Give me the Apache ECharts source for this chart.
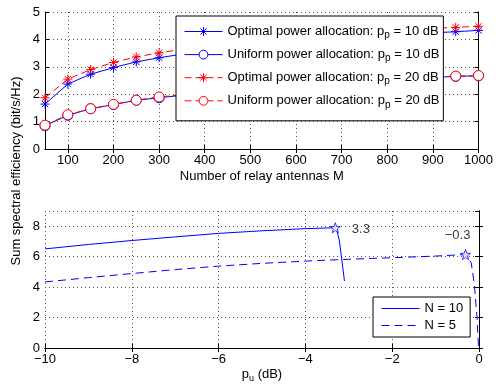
<!DOCTYPE html>
<html>
<head>
<meta charset="utf-8">
<script src="https://cdn.jsdelivr.net/npm/echarts@6/dist/echarts.min.js"></script>
<style>
  html, body { margin: 0; padding: 0; background: #fff; }
  #chart { width: 496px; height: 390px; }
</style>
</head>
<body>
<div id="chart"></div>
<script>
// top panel: sum SE vs number of relay antennas
const antennaM = [50, 100, 150, 200, 250, 300, 350, 400, 450, 500, 550, 600, 650, 700, 750, 800, 850, 900, 950, 1000];
const optP10 = [1.64, 2.37, 2.73, 2.97, 3.18, 3.33, 3.46, 3.57, 3.67, 3.76, 3.84, 3.92, 3.99, 4.05, 4.10, 4.15, 4.20, 4.24, 4.28, 4.33];
const uniP10 = [0.85, 1.23, 1.47, 1.62, 1.78, 1.87, 1.96, 2.04, 2.12, 2.19, 2.25, 2.31, 2.37, 2.42, 2.47, 2.52, 2.57, 2.61, 2.65, 2.67];
const optP20 = [1.87, 2.55, 2.90, 3.16, 3.36, 3.51, 3.64, 3.75, 3.85, 3.94, 4.02, 4.09, 4.15, 4.21, 4.26, 4.31, 4.36, 4.40, 4.44, 4.48];
const uniP20 = [0.87, 1.25, 1.47, 1.63, 1.78, 1.90, 1.98, 2.06, 2.13, 2.20, 2.26, 2.32, 2.38, 2.43, 2.48, 2.53, 2.58, 2.62, 2.66, 2.68];
const topTicksX = [100, 200, 300, 400, 500, 600, 700, 800, 900, 1000];
const topNames = [
  'Optimal power allocation: p_p = 10 dB',
  'Uniform power allocation: p_p = 10 dB',
  'Optimal power allocation: p_p = 20 dB',
  'Uniform power allocation: p_p = 20 dB'
];

// bottom panel: sum SE vs p_u
const puN10 = [-10, -9, -8, -7, -6, -5, -4, -3.31, -3.27, -3.22, -3.17, -3.1];
const seN10 = [6.51, 6.80, 7.06, 7.30, 7.53, 7.70, 7.84, 7.90, 7.65, 7.10, 6.00, 4.40];
const puN5 = [-10, -9, -8, -7, -6, -5, -4, -3, -2, -1, -0.31, -0.18, -0.11, -0.05, -0.01];
const seN5 = [4.34, 4.62, 4.89, 5.15, 5.38, 5.56, 5.71, 5.83, 5.93, 6.04, 6.14, 5.60, 4.25, 2.20, 0];
const peakPu = [-3.31, -0.31];
const peakSe = [7.90, 6.14];
const peakLabels = ['3.3', '\u22120.3'];
const bottomNames = ['N = 10', 'N = 5'];

const FONT = 'Liberation Sans, Arial, sans-serif';
const BLUE = '#0000ff';
const RED = '#ff0000';
const asterisk = 'path://M0,-5L0,5M-5,0L5,0M-3.5,-3.5L3.5,3.5M-3.5,3.5L3.5,-3.5';
const ring = 'path://M0,-5A5,5 0 1,1 0,5A5,5 0 1,1 0,-5Z';
const star = 'path://M0,-10L2.35,-3.24L9.51,-3.09L3.8,1.24L5.88,8.09L0,4L-5.88,8.09L-3.8,1.24L-9.51,-3.09L-2.35,-3.24Z';

const minus = v => String(v).replace('-', '\u2212');
const gridLine = { show: true, lineStyle: { color: '#555', type: [1, 3], width: 1 } };
const tick = { show: true, inside: true, length: 4, lineStyle: { color: '#000' } };
const line = { show: true, lineStyle: { color: '#000', width: 1 } };
const label = { color: '#000', fontSize: 13, fontFamily: FONT, margin: 5 };

function pairs(xs, ys) { return xs.map((x, i) => [x, ys[i]]); }

const chart = echarts.init(document.getElementById('chart'), null, { renderer: 'canvas' });

chart.setOption({
  animation: false,
  backgroundColor: '#fff',
  grid: [
    { left: 45, top: 12, width: 434, height: 137 },
    { left: 45, top: 211, width: 434, height: 137 }
  ],
  xAxis: [
    {
      gridIndex: 0, type: 'value', min: 50, max: 1000,
      name: 'Number of relay antennas M', nameLocation: 'middle', nameGap: 21,
      nameTextStyle: { color: '#000', fontSize: 13, fontFamily: FONT },
      axisLine: line, axisTick: Object.assign({ customValues: topTicksX }, tick),
      axisLabel: Object.assign({
        customValues: topTicksX,
        formatter: v => (topTicksX.indexOf(v) >= 0 ? String(v) : '')
      }, label),
      splitLine: gridLine
    },
    {
      gridIndex: 0, type: 'value', min: 50, max: 1000, position: 'top',
      axisLine: line, axisTick: Object.assign({ customValues: topTicksX }, tick),
      axisLabel: { show: false }, splitLine: { show: false }
    },
    {
      gridIndex: 1, type: 'value', min: -10, max: 0, interval: 2,
      name: '{n|p}{s|u}{n| (dB)}', nameLocation: 'middle', nameGap: 17,
      nameTextStyle: {
        color: '#000', fontFamily: FONT,
        rich: {
          n: { fontSize: 13, fontFamily: FONT, lineHeight: 18 },
          s: { fontSize: 9, fontFamily: FONT, verticalAlign: 'bottom' }
        }
      },
      axisLine: line, axisTick: tick,
      axisLabel: Object.assign({ formatter: minus }, label),
      splitLine: gridLine
    },
    {
      gridIndex: 1, type: 'value', min: -10, max: 0, interval: 2, position: 'top',
      axisLine: line, axisTick: tick, axisLabel: { show: false }, splitLine: { show: false }
    }
  ],
  yAxis: [
    {
      gridIndex: 0, type: 'value', min: 0, max: 5, interval: 1,
      axisLine: line, axisTick: tick, axisLabel: label, splitLine: gridLine
    },
    {
      gridIndex: 0, type: 'value', min: 0, max: 5, interval: 1, position: 'right',
      axisLine: line, axisTick: tick, axisLabel: { show: false }, splitLine: { show: false }
    },
    {
      gridIndex: 1, type: 'value', min: 0, max: 9, interval: 2,
      axisLine: line, axisTick: tick,
      axisLabel: Object.assign({ showMaxLabel: false }, label),
      splitLine: gridLine
    },
    {
      gridIndex: 1, type: 'value', min: 0, max: 9, interval: 2, position: 'right',
      axisLine: line, axisTick: tick, axisLabel: { show: false }, splitLine: { show: false }
    }
  ],
  legend: [
    {
      data: topNames, orient: 'vertical', left: 176, top: 16,
      itemWidth: 38, itemHeight: 11, itemGap: 7.6, padding: [9, 4, 11, 8],
      backgroundColor: '#fff', borderColor: '#000', borderWidth: 1, borderRadius: 0,
      lineStyle: { width: 1 },
      itemStyle: { borderWidth: 1 },
      formatter: n => {
        const parts = n.split('p_p');
        return '{n|' + parts[0] + 'p}{s|p}{n|' + parts[1] + '}';
      },
      textStyle: {
        color: '#000', fontFamily: FONT,
        rich: {
          n: { fontSize: 13, fontFamily: FONT, lineHeight: 18, padding: [0, 0, 0, 0] },
          s: { fontSize: 10, fontFamily: FONT, verticalAlign: 'bottom', lineHeight: 10 }
        }
      }
    },
    {
      data: bottomNames, orient: 'vertical', left: 373, top: 297,
      itemWidth: 38, itemHeight: 14, itemGap: 4, padding: [5, 7, 5, 8],
      backgroundColor: '#fff', borderColor: '#000', borderWidth: 1, borderRadius: 0,
      lineStyle: { width: 1 },
      itemStyle: { opacity: 0 },
      textStyle: { color: '#000', fontSize: 13, fontFamily: FONT }
    }
  ],
  graphic: [
    {
      type: 'text', x: 16, y: 171, rotation: Math.PI / 2,
      style: {
        text: 'Sum spectral efficiency (bit/s/Hz)', fill: '#000',
        font: '13px ' + FONT, align: 'center', verticalAlign: 'middle'
      }
    }
  ],
  series: [
    {
      name: topNames[0], type: 'line', xAxisIndex: 0, yAxisIndex: 0,
      data: pairs(antennaM, optP10),
      symbol: asterisk, symbolSize: 9,
      lineStyle: { color: BLUE, width: 1 },
      itemStyle: { color: BLUE, borderColor: BLUE, borderWidth: 1 }
    },
    {
      name: topNames[1], type: 'line', xAxisIndex: 0, yAxisIndex: 0,
      data: pairs(antennaM, uniP10),
      symbol: ring, symbolSize: 10,
      lineStyle: { color: BLUE, width: 1 },
      itemStyle: { color: '#fff', borderColor: BLUE, borderWidth: 1 }
    },
    {
      name: topNames[2], type: 'line', xAxisIndex: 0, yAxisIndex: 0,
      data: pairs(antennaM, optP20),
      symbol: asterisk, symbolSize: 9,
      lineStyle: { color: RED, width: 1, type: [7, 4] },
      itemStyle: { color: RED, borderColor: RED, borderWidth: 1 }
    },
    {
      name: topNames[3], type: 'line', xAxisIndex: 0, yAxisIndex: 0,
      data: pairs(antennaM, uniP20),
      symbol: ring, symbolSize: 10,
      lineStyle: { color: RED, width: 1, type: [7, 4] },
      itemStyle: { color: '#fff', borderColor: RED, borderWidth: 1 }
    },
    {
      name: bottomNames[0], type: 'line', xAxisIndex: 2, yAxisIndex: 2,
      data: pairs(puN10, seN10), symbol: 'none',
      lineStyle: { color: BLUE, width: 1 },
      itemStyle: { color: BLUE }
    },
    {
      name: bottomNames[1], type: 'line', xAxisIndex: 2, yAxisIndex: 2,
      data: pairs(puN5, seN5), symbol: 'none',
      lineStyle: { color: BLUE, width: 1, type: [8, 5] },
      itemStyle: { color: BLUE }
    },
    {
      name: 'peaks', type: 'scatter', xAxisIndex: 2, yAxisIndex: 2,
      symbol: star, symbolSize: 10, z: 5,
      itemStyle: { color: '#fff', borderColor: BLUE, borderWidth: 1 },
      data: peakPu.map((x, i) => ({
        value: [x, peakSe[i]],
        label: {
          show: true, formatter: peakLabels[i], color: '#000', fontSize: 13, fontFamily: FONT,
          position: i === 0 ? 'right' : 'top',
          offset: i === 0 ? [6, 2] : [-8, -2]
        }
      }))
    }
  ]
});
</script>
</body>
</html>
